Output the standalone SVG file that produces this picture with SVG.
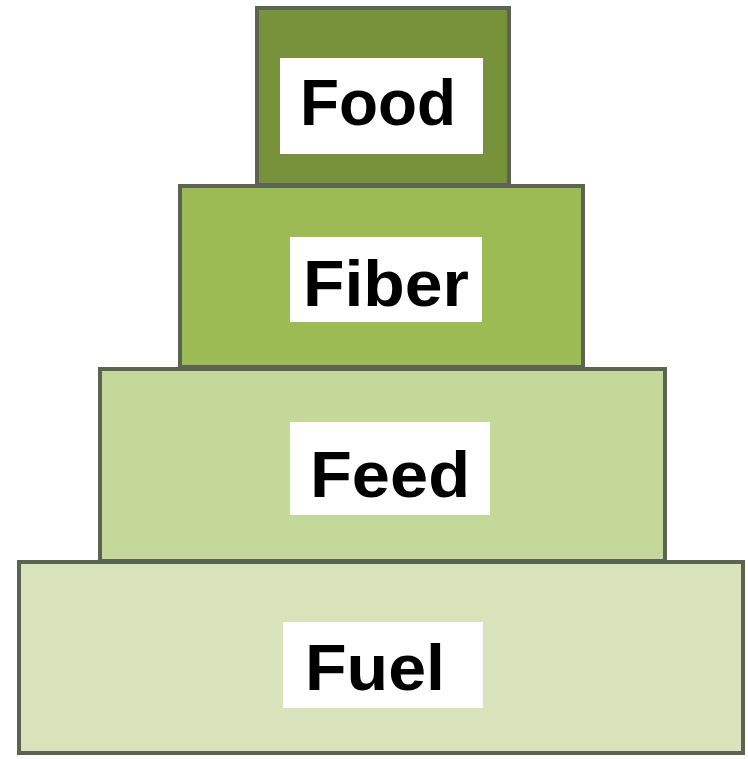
<svg xmlns="http://www.w3.org/2000/svg" width="748" height="759" viewBox="0 0 748 759">
<style>
.tier{stroke:#5b6450;stroke-width:4}
.lbl{fill:#ffffff}
text{font-family:"Liberation Sans",Arial,sans-serif;font-weight:bold;font-size:64px;fill:#000000;text-anchor:middle}
</style>
<rect width="748" height="759" fill="#ffffff"/>
<g id="fuel">
<rect class="tier" x="19" y="562" width="724" height="191" fill="#d8e3bb"/>
<rect class="lbl" x="283" y="622" width="200" height="86"/>
<text x="375" y="690" textLength="140" lengthAdjust="spacingAndGlyphs">Fuel</text>
</g>
<g id="feed">
<rect class="tier" x="100" y="369" width="565" height="192" fill="#c4d89a"/>
<rect class="lbl" x="290" y="422" width="200" height="93"/>
<text x="390" y="497" textLength="160" lengthAdjust="spacingAndGlyphs">Feed</text>
</g>
<g id="fiber">
<rect class="tier" x="180" y="186" width="403" height="181" fill="#9cbb55"/>
<rect class="lbl" x="290" y="237" width="192" height="85"/>
<text x="386" y="306" textLength="166" lengthAdjust="spacingAndGlyphs">Fiber</text>
</g>
<g id="food">
<rect class="tier" x="257" y="8" width="252" height="177" fill="#77923a"/>
<rect class="lbl" x="280" y="58" width="203" height="96"/>
<text x="378" y="125" textLength="156" lengthAdjust="spacingAndGlyphs">Food</text>
</g>
<g id="connectors"/>
</svg>
